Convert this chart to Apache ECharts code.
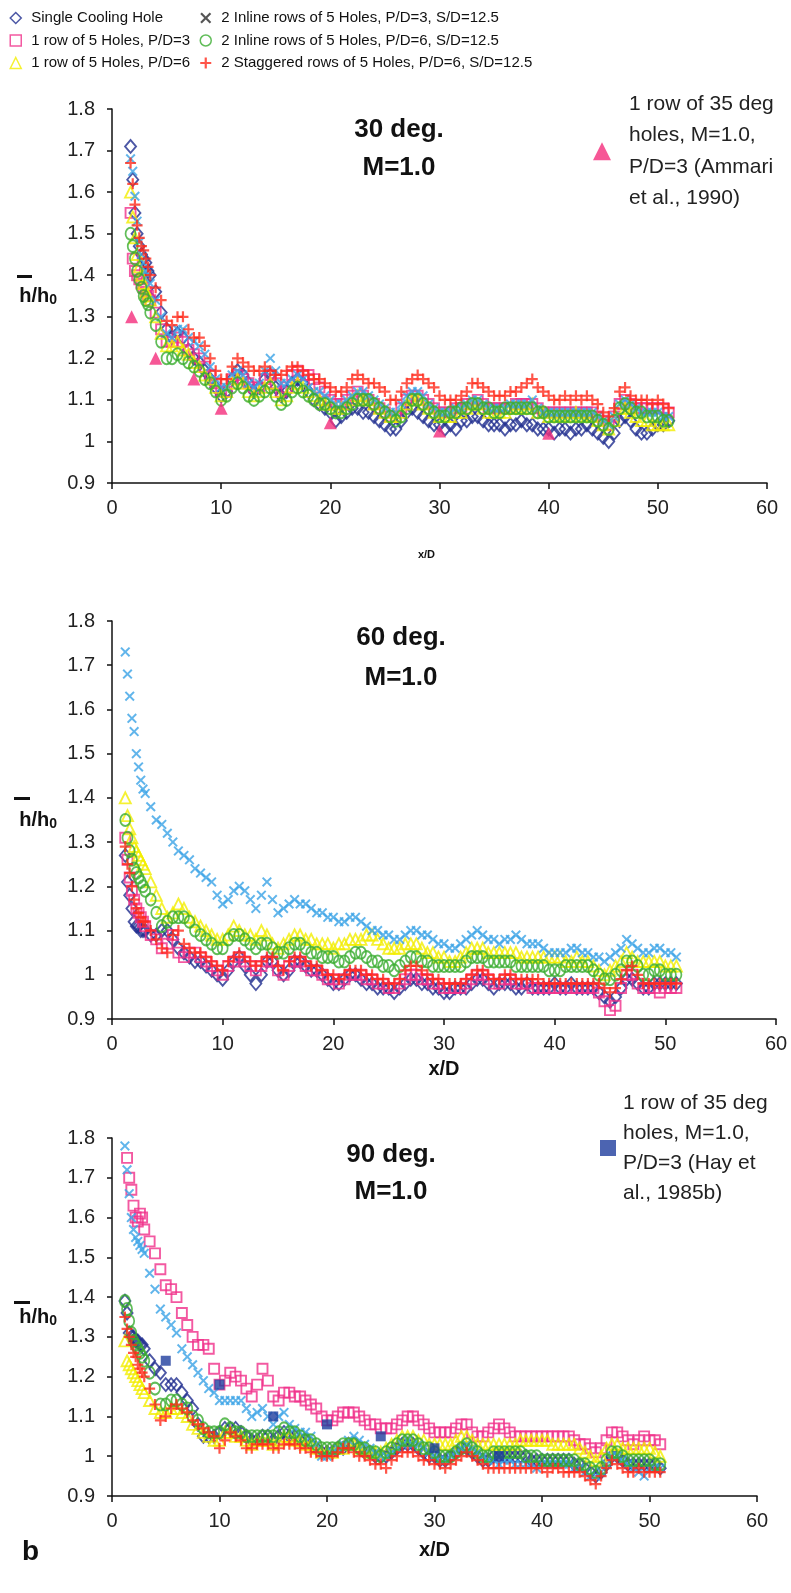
<!DOCTYPE html>
<html>
<head>
<meta charset="utf-8">
<script src="https://cdn.jsdelivr.net/npm/echarts@6/dist/echarts.min.js"></script>
<style>
  html, body { margin: 0; padding: 0; background: #ffffff; }
  #chart { width: 791px; height: 1593px; }
</style>
</head>
<body>
<div id="chart"></div>
<script>
// ---- x/D stations ----
const xs30 = [1.7,1.9,2.1,2.3,2.5,2.7,2.9,3.1,3.3,3.5,
  4,4.5,5,5.5,6,6.5,7,7.5,8,8.5,
  9,9.5,10,10.5,11,11.5,12,12.5,13,13.5,
  14,14.5,15,15.5,16,16.5,17,17.5,18,18.5,
  19,19.5,20,20.5,21,21.5,22,22.5,23,23.5,
  24,24.5,25,25.5,26,26.5,27,27.5,28,28.5,
  29,29.5,30,30.5,31,31.5,32,32.5,33,33.5,
  34,34.5,35,35.5,36,36.5,37,37.5,38,38.5,
  39,39.5,40,40.5,41,41.5,42,42.5,43,43.5,
  44,44.5,45,45.5,46,46.5,47,47.5,48,48.5,
  49,49.5,50,50.5,51];

const xs60 = [1.2,1.4,1.6,1.8,2,2.2,2.4,2.6,2.8,3,
  3.5,4,4.5,5,5.5,6,6.5,7,7.5,8,
  8.5,9,9.5,10,10.5,11,11.5,12,12.5,13,
  13.5,14,14.5,15,15.5,16,16.5,17,17.5,18,
  18.5,19,19.5,20,20.5,21,21.5,22,22.5,23,
  23.5,24,24.5,25,25.5,26,26.5,27,27.5,28,
  28.5,29,29.5,30,30.5,31,31.5,32,32.5,33,
  33.5,34,34.5,35,35.5,36,36.5,37,37.5,38,
  38.5,39,39.5,40,40.5,41,41.5,42,42.5,43,
  43.5,44,44.5,45,45.5,46,46.5,47,47.5,48,
  48.5,49,49.5,50,50.5,51];
const xs90 = xs60;

// ---- 30 deg, M=1.0 ----
const single30 = [1.71,1.63,1.55,1.50,1.47,1.45,1.44,1.43,1.41,1.40,
  1.36,1.31,1.27,1.25,1.26,1.25,1.22,1.20,1.19,1.17,
  1.15,1.13,1.11,1.12,1.15,1.17,1.16,1.14,1.12,1.13,
  1.15,1.16,1.13,1.11,1.12,1.14,1.15,1.14,1.12,1.10,
  1.09,1.08,1.07,1.05,1.06,1.07,1.08,1.08,1.07,1.07,
  1.06,1.05,1.04,1.03,1.03,1.05,1.07,1.08,1.07,1.06,
  1.05,1.04,1.04,1.03,1.04,1.03,1.05,1.05,1.06,1.06,
  1.05,1.04,1.04,1.04,1.03,1.04,1.04,1.05,1.04,1.04,
  1.03,1.03,1.03,1.02,1.03,1.03,1.02,1.03,1.03,1.04,
  1.03,1.02,1.01,1.00,1.02,1.05,1.06,1.05,1.03,1.02,
  1.02,1.03,1.04,1.04,1.05];
const row3_30 = [1.55,1.44,1.41,1.40,1.39,1.38,1.37,1.36,1.35,1.34,
  1.31,1.27,1.24,1.24,1.25,1.24,1.22,1.21,1.20,1.18,
  1.16,1.14,1.12,1.12,1.15,1.16,1.15,1.14,1.13,1.13,
  1.15,1.16,1.14,1.12,1.13,1.16,1.17,1.16,1.16,1.15,
  1.13,1.12,1.10,1.09,1.09,1.10,1.11,1.12,1.11,1.10,
  1.09,1.08,1.07,1.06,1.06,1.08,1.10,1.11,1.11,1.10,
  1.09,1.08,1.07,1.07,1.07,1.08,1.08,1.09,1.09,1.10,
  1.09,1.08,1.08,1.08,1.08,1.08,1.09,1.09,1.09,1.09,
  1.08,1.07,1.07,1.07,1.07,1.07,1.07,1.07,1.07,1.07,
  1.07,1.06,1.05,1.04,1.06,1.09,1.10,1.09,1.08,1.08,
  1.08,1.08,1.08,1.08,1.07];
const row6_30 = [1.60,1.54,1.49,1.45,1.42,1.40,1.38,1.36,1.35,1.34,
  1.30,1.26,1.23,1.23,1.24,1.22,1.21,1.19,1.18,1.16,
  1.15,1.13,1.11,1.12,1.14,1.15,1.14,1.12,1.11,1.12,
  1.13,1.14,1.12,1.10,1.11,1.13,1.14,1.13,1.12,1.11,
  1.10,1.09,1.09,1.08,1.08,1.09,1.10,1.11,1.10,1.10,
  1.09,1.08,1.07,1.06,1.06,1.07,1.09,1.10,1.10,1.09,
  1.08,1.07,1.06,1.06,1.06,1.07,1.07,1.08,1.09,1.09,
  1.08,1.07,1.07,1.07,1.07,1.08,1.08,1.08,1.08,1.09,
  1.07,1.07,1.06,1.06,1.06,1.06,1.06,1.07,1.06,1.06,
  1.06,1.05,1.04,1.03,1.05,1.08,1.08,1.07,1.06,1.05,
  1.05,1.04,1.04,1.04,1.04];
const inline3_30 = [1.68,1.65,1.59,1.53,1.48,1.45,1.43,1.41,1.40,1.38,
  1.34,1.30,1.26,1.25,1.27,1.27,1.25,1.24,1.23,1.21,
  1.18,1.15,1.13,1.13,1.16,1.17,1.16,1.14,1.13,1.14,
  1.17,1.20,1.17,1.14,1.14,1.15,1.16,1.15,1.13,1.12,
  1.12,1.11,1.10,1.09,1.09,1.10,1.11,1.12,1.12,1.11,
  1.10,1.09,1.08,1.07,1.07,1.09,1.11,1.12,1.12,1.11,
  1.09,1.08,1.07,1.07,1.07,1.08,1.08,1.09,1.10,1.10,
  1.09,1.08,1.08,1.08,1.08,1.09,1.09,1.09,1.09,1.10,
  1.08,1.07,1.07,1.07,1.07,1.07,1.07,1.07,1.07,1.07,
  1.07,1.06,1.05,1.04,1.06,1.09,1.10,1.09,1.08,1.07,
  1.07,1.07,1.07,1.06,1.06];
const inline6_30 = [1.50,1.47,1.44,1.41,1.39,1.37,1.35,1.34,1.33,1.31,
  1.28,1.24,1.20,1.20,1.21,1.20,1.19,1.18,1.17,1.15,
  1.14,1.12,1.10,1.11,1.13,1.14,1.13,1.11,1.10,1.11,
  1.12,1.13,1.11,1.09,1.10,1.12,1.13,1.12,1.11,1.10,
  1.09,1.09,1.08,1.07,1.07,1.08,1.09,1.10,1.10,1.10,
  1.09,1.08,1.07,1.06,1.05,1.06,1.08,1.10,1.10,1.09,
  1.08,1.07,1.06,1.06,1.07,1.07,1.08,1.08,1.09,1.09,
  1.08,1.08,1.07,1.07,1.08,1.08,1.08,1.08,1.08,1.08,
  1.07,1.07,1.06,1.06,1.06,1.06,1.06,1.06,1.06,1.06,
  1.06,1.05,1.04,1.03,1.05,1.08,1.09,1.08,1.07,1.07,
  1.06,1.06,1.06,1.05,1.05];
const stag30 = [1.67,1.62,1.57,1.52,1.49,1.47,1.46,1.44,1.42,1.40,
  1.37,1.34,1.29,1.28,1.30,1.30,1.27,1.25,1.25,1.23,
  1.20,1.17,1.15,1.15,1.18,1.20,1.19,1.18,1.17,1.17,
  1.18,1.17,1.16,1.16,1.17,1.18,1.18,1.17,1.16,1.15,
  1.15,1.14,1.13,1.12,1.12,1.13,1.15,1.16,1.15,1.14,
  1.14,1.13,1.12,1.10,1.10,1.12,1.14,1.15,1.16,1.15,
  1.14,1.13,1.11,1.10,1.10,1.10,1.11,1.12,1.14,1.14,
  1.13,1.12,1.11,1.11,1.11,1.12,1.12,1.13,1.14,1.15,
  1.13,1.12,1.11,1.10,1.10,1.11,1.10,1.11,1.10,1.11,
  1.10,1.09,1.07,1.06,1.08,1.12,1.13,1.11,1.10,1.10,
  1.10,1.09,1.10,1.09,1.08];

// ---- 60 deg, M=1.0 ----
const single60 = [1.27,1.21,1.18,1.15,1.12,1.11,1.11,1.10,1.10,1.10,
  1.09,1.09,1.10,1.10,1.08,1.06,1.05,1.04,1.03,1.03,
  1.02,1.01,1.00,0.99,1.01,1.03,1.04,1.02,1.00,0.98,
  1.00,1.03,1.03,1.01,1.00,1.01,1.03,1.03,1.02,1.01,
  1.01,1.00,0.99,0.98,0.98,0.99,1.00,1.00,0.99,0.98,
  0.98,0.97,0.97,0.97,0.96,0.97,0.98,0.99,0.99,0.98,
  0.98,0.97,0.97,0.96,0.96,0.97,0.97,0.97,0.98,0.99,
  0.99,0.98,0.97,0.98,0.98,0.98,0.97,0.97,0.98,0.97,
  0.97,0.97,0.97,0.98,0.97,0.97,0.98,0.97,0.97,0.97,
  0.97,0.96,0.95,0.94,0.95,0.97,0.99,0.99,0.98,0.97,
  0.97,0.98,0.98,0.98,0.98,0.98];
const row3_60 = [1.31,1.26,1.22,1.19,1.17,1.15,1.14,1.13,1.12,1.11,
  1.09,1.08,1.06,1.07,1.09,1.05,1.04,1.05,1.05,1.04,
  1.03,1.02,1.01,1.00,1.02,1.03,1.04,1.03,1.02,1.01,
  1.02,1.03,1.03,1.01,1.00,1.02,1.03,1.03,1.02,1.01,
  1.01,1.00,0.99,0.99,0.98,0.99,1.00,1.00,1.00,0.99,
  0.99,0.98,0.98,0.97,0.97,0.98,0.99,1.00,1.00,0.99,
  0.99,0.98,0.98,0.97,0.97,0.97,0.97,0.98,0.99,1.00,
  1.00,0.99,0.98,0.98,0.99,0.99,0.98,0.98,0.98,0.97,
  0.97,0.97,0.97,0.97,0.97,0.97,0.97,0.97,0.97,0.97,
  0.97,0.96,0.94,0.92,0.93,0.97,1.00,1.00,0.98,0.97,
  0.97,0.97,0.96,0.97,0.97,0.97];
const row6_60 = [1.40,1.36,1.33,1.31,1.29,1.28,1.27,1.26,1.25,1.24,
  1.21,1.18,1.15,1.13,1.14,1.16,1.15,1.13,1.12,1.11,
  1.10,1.09,1.08,1.08,1.09,1.11,1.10,1.09,1.09,1.08,
  1.10,1.09,1.07,1.06,1.07,1.08,1.09,1.09,1.08,1.08,
  1.07,1.07,1.07,1.06,1.07,1.07,1.08,1.08,1.08,1.09,
  1.09,1.08,1.07,1.06,1.06,1.06,1.07,1.07,1.07,1.06,
  1.05,1.05,1.04,1.04,1.03,1.03,1.04,1.05,1.06,1.06,
  1.06,1.05,1.05,1.05,1.05,1.05,1.05,1.04,1.04,1.04,
  1.04,1.04,1.04,1.04,1.04,1.03,1.03,1.04,1.03,1.03,
  1.02,1.01,1.00,1.01,1.02,1.03,1.05,1.04,1.03,1.03,
  1.03,1.03,1.03,1.02,1.02,1.02];
const inline3_60 = [1.73,1.68,1.63,1.58,1.55,1.50,1.47,1.44,1.42,1.41,
  1.38,1.35,1.34,1.32,1.30,1.28,1.27,1.26,1.24,1.23,
  1.22,1.21,1.18,1.16,1.17,1.19,1.20,1.19,1.17,1.15,
  1.18,1.21,1.17,1.14,1.15,1.16,1.17,1.16,1.16,1.15,
  1.14,1.14,1.13,1.13,1.12,1.12,1.13,1.13,1.12,1.11,
  1.10,1.10,1.09,1.09,1.08,1.08,1.09,1.10,1.10,1.09,
  1.09,1.08,1.07,1.07,1.06,1.06,1.07,1.08,1.09,1.10,
  1.09,1.08,1.08,1.07,1.08,1.08,1.09,1.08,1.07,1.07,
  1.07,1.06,1.05,1.05,1.05,1.05,1.06,1.06,1.05,1.05,
  1.04,1.04,1.03,1.04,1.05,1.06,1.08,1.07,1.06,1.05,
  1.05,1.06,1.06,1.05,1.05,1.04];
const inline6_60 = [1.35,1.31,1.28,1.26,1.24,1.23,1.22,1.21,1.20,1.19,
  1.17,1.14,1.11,1.12,1.13,1.13,1.13,1.12,1.10,1.09,
  1.08,1.07,1.06,1.06,1.08,1.09,1.09,1.08,1.07,1.06,
  1.07,1.07,1.06,1.05,1.05,1.06,1.07,1.07,1.06,1.05,
  1.05,1.04,1.04,1.04,1.03,1.03,1.04,1.05,1.05,1.04,
  1.03,1.03,1.02,1.02,1.01,1.02,1.03,1.04,1.04,1.03,
  1.03,1.02,1.02,1.02,1.02,1.02,1.02,1.03,1.04,1.04,
  1.04,1.03,1.03,1.03,1.03,1.03,1.02,1.02,1.02,1.02,
  1.02,1.02,1.01,1.01,1.01,1.02,1.02,1.02,1.02,1.02,
  1.01,1.00,0.99,0.99,1.00,1.01,1.03,1.03,1.02,1.00,
  1.00,1.01,1.01,1.00,1.00,1.00];
const stag60 = [1.29,1.25,1.23,1.20,1.17,1.15,1.14,1.13,1.12,1.12,
  1.10,1.08,1.06,1.05,1.09,1.10,1.07,1.06,1.05,1.05,
  1.04,1.03,1.02,1.01,1.03,1.04,1.05,1.04,1.03,1.02,
  1.03,1.04,1.04,1.02,1.01,1.03,1.04,1.04,1.03,1.02,
  1.02,1.01,1.00,1.00,0.99,1.00,1.01,1.01,1.01,1.00,
  1.00,0.99,0.99,0.98,0.98,0.99,1.01,1.02,1.02,1.01,
  1.00,0.99,0.99,0.98,0.98,0.98,0.98,0.99,1.00,1.01,
  1.01,1.00,0.99,0.99,1.00,1.00,0.99,0.99,0.99,0.99,
  0.99,0.98,0.98,0.98,0.98,0.98,0.98,0.98,0.98,0.98,
  0.98,0.98,0.97,0.96,0.97,0.99,1.01,1.02,1.00,0.98,
  0.98,0.98,0.98,0.98,0.98,0.98];

// ---- 90 deg, M=1.0 ----
const single90 = [1.39,1.36,1.31,1.30,1.30,1.29,1.29,1.28,1.28,1.27,
  1.24,1.22,1.21,1.18,1.18,1.18,1.16,1.14,1.12,1.08,
  1.05,1.05,1.05,1.06,1.07,1.07,1.07,1.06,1.05,1.04,
  1.04,1.05,1.05,1.04,1.05,1.06,1.05,1.05,1.04,1.04,
  1.03,1.02,1.01,1.01,1.01,1.02,1.02,1.03,1.03,1.02,
  1.01,1.01,1.00,1.00,1.00,1.01,1.02,1.03,1.03,1.03,
  1.02,1.01,1.00,1.00,0.99,0.99,1.00,1.01,1.02,1.02,
  1.01,1.00,0.99,0.99,1.00,1.00,1.00,1.00,1.00,1.00,
  1.00,0.99,0.99,0.99,0.99,0.99,0.99,0.99,0.99,0.98,
  0.98,0.97,0.96,0.95,0.96,0.98,1.00,1.00,0.99,0.98,
  0.98,0.98,0.98,0.98,0.98,0.97];
const row3_90 = [null,1.75,1.70,1.67,1.63,1.60,1.59,1.61,1.60,1.57,
  1.54,1.51,1.47,1.43,1.42,1.40,1.36,1.33,1.30,1.28,
  1.28,1.27,1.22,1.18,1.19,1.21,1.20,1.19,1.17,1.15,
  1.18,1.22,1.19,1.15,1.14,1.16,1.16,1.15,1.15,1.14,
  1.13,1.12,1.10,1.09,1.09,1.10,1.11,1.11,1.11,1.10,
  1.09,1.08,1.08,1.07,1.07,1.07,1.08,1.09,1.10,1.10,
  1.09,1.08,1.07,1.06,1.06,1.06,1.06,1.07,1.08,1.08,
  1.06,1.05,1.05,1.06,1.07,1.08,1.07,1.06,1.05,1.05,
  1.05,1.05,1.05,1.05,1.05,1.05,1.05,1.05,1.05,1.04,
  1.03,1.03,1.02,1.01,1.02,1.04,1.06,1.06,1.05,1.04,
  1.03,1.04,1.05,1.04,1.04,1.03];
const row6_90 = [1.29,1.24,1.23,1.22,1.21,1.20,1.19,1.18,1.17,1.16,
  1.14,1.12,1.11,1.11,1.12,1.12,1.11,1.10,1.08,1.07,
  1.06,1.05,1.04,1.04,1.06,1.06,1.05,1.05,1.04,1.03,
  1.04,1.04,1.04,1.03,1.04,1.05,1.05,1.04,1.04,1.03,
  1.03,1.02,1.01,1.01,1.01,1.02,1.02,1.03,1.03,1.02,
  1.02,1.01,1.01,1.01,1.02,1.03,1.04,1.05,1.05,1.05,
  1.04,1.04,1.03,1.03,1.03,1.03,1.03,1.04,1.05,1.05,
  1.04,1.03,1.03,1.03,1.03,1.03,1.03,1.03,1.03,1.04,
  1.04,1.04,1.04,1.04,1.04,1.03,1.03,1.03,1.03,1.03,
  1.02,1.01,1.00,0.99,1.00,1.02,1.03,1.03,1.02,1.02,
  1.02,1.02,1.02,1.02,1.01,1.00];
const inline3_90 = [1.78,1.72,1.66,1.60,1.57,1.55,1.54,1.53,1.52,1.51,
  1.46,1.42,1.37,1.35,1.33,1.31,1.27,1.25,1.23,1.21,
  1.19,1.17,1.16,1.14,1.14,1.14,1.14,1.14,1.12,1.10,
  1.11,1.12,1.10,1.08,1.10,1.11,1.08,1.07,1.06,1.06,
  1.05,1.03,1.00,1.00,1.01,1.02,1.03,1.04,1.05,1.04,
  1.03,1.02,1.01,1.00,1.00,1.01,1.02,1.03,1.04,1.03,
  1.03,1.02,1.01,1.00,0.99,0.99,1.00,1.01,1.02,1.03,
  1.02,1.01,1.00,0.99,0.99,0.98,0.99,0.99,0.98,0.98,
  0.98,0.98,0.97,0.98,0.98,0.98,0.98,0.98,0.98,0.97,
  0.97,0.96,0.95,0.95,0.96,0.98,1.00,1.00,0.99,0.98,
  0.97,0.96,0.95,0.97,0.97,0.97];
const inline6_90 = [1.39,1.37,1.34,1.31,1.29,1.28,1.27,1.26,1.25,1.24,
  1.21,1.17,1.13,1.13,1.14,1.14,1.13,1.12,1.10,1.09,
  1.07,1.06,1.06,1.06,1.08,1.07,1.06,1.06,1.05,1.05,
  1.05,1.05,1.05,1.05,1.06,1.07,1.06,1.06,1.05,1.04,
  1.04,1.03,1.02,1.02,1.02,1.02,1.03,1.03,1.03,1.02,
  1.02,1.01,1.01,1.00,1.01,1.02,1.03,1.04,1.04,1.04,
  1.03,1.02,1.02,1.01,1.00,1.00,1.00,1.01,1.02,1.03,
  1.02,1.01,1.00,1.00,1.01,1.01,1.01,1.01,1.01,1.01,
  1.00,1.00,1.00,0.99,0.99,0.99,0.99,0.99,0.99,0.99,
  0.98,0.98,0.97,0.96,0.97,0.99,1.01,1.01,1.00,0.99,
  0.99,0.99,0.99,0.99,0.98,0.98];
const stag90 = [1.35,1.32,1.30,1.28,1.26,1.25,1.23,1.22,1.21,1.20,
  1.17,1.13,1.09,1.10,1.12,1.13,1.12,1.11,1.09,1.08,
  1.07,1.06,1.05,1.02,1.04,1.06,1.05,1.04,1.02,1.02,
  1.03,1.03,1.03,1.02,1.02,1.03,1.03,1.03,1.02,1.02,
  1.01,1.01,1.00,1.00,1.00,1.01,1.02,1.02,1.01,1.00,
  1.00,0.99,0.98,0.98,0.97,0.99,1.00,1.01,1.01,1.01,
  1.00,0.99,0.99,0.98,0.98,0.97,0.98,0.99,1.00,1.01,
  1.00,0.99,0.98,0.97,0.97,0.97,0.97,0.97,0.97,0.97,
  0.97,0.97,0.97,0.97,0.96,0.97,0.97,0.96,0.96,0.96,
  0.96,0.95,0.94,0.93,0.95,0.97,0.99,0.98,0.97,0.96,
  0.96,0.97,0.96,0.96,0.96,0.96];

// ---- published comparison data (1 row of 35 deg holes, M=1.0, P/D=3) ----
const ammariX = [1.8, 4, 7.5, 10, 20, 30, 40];
const ammariY = [1.30, 1.20, 1.15, 1.08, 1.045, 1.025, 1.02];
const hayX = [5, 10, 15, 20, 25, 30, 36];
const hayY = [1.24, 1.18, 1.10, 1.08, 1.05, 1.02, 1.00];

// ---- axis ticks ----
const yTicks = { min: 0.9, max: 1.8, step: 0.1 };
const xTicks = { min: 0, max: 60, step: 10 };

const NAMES = [
  'Single Cooling Hole',
  '1 row of 5 Holes, P/D=3',
  '1 row of 5 Holes, P/D=6',
  '2 Inline rows of 5 Holes, P/D=3, S/D=12.5',
  '2 Inline rows of 5 Holes, P/D=6, S/D=12.5',
  '2 Staggered rows of 5 Holes, P/D=6, S/D=12.5'
];
const AMMARI = '1 row of 35 deg holes, M=1.0, P/D=3 (Ammari et al., 1990)';
const HAY = '1 row of 35 deg holes, M=1.0, P/D=3 (Hay et al., 1985b)';

const PANELS = [
  { xs: xs30, sets: [single30, row3_30, row6_30, inline3_30, inline6_30, stag30] },
  { xs: xs60, sets: [single60, row3_60, row6_60, inline3_60, inline6_60, stag60] },
  { xs: xs90, sets: [single90, row3_90, row6_90, inline3_90, inline6_90, stag90] }
];

// marker shapes
const X_PATH = 'path://M0,1.4L1.4,0L5,3.6L8.6,0L10,1.4L6.4,5L10,8.6L8.6,10L5,6.4L1.4,10L0,8.6L3.6,5Z';
const PLUS_PATH = 'path://M4,0H6V4H10V6H6V10H4V6H0V4H4Z';
const MARKERS = [
  { symbol: 'diamond', size: [11, 13], hollow: true, color: '#1f2d8e' },
  { symbol: 'rect', size: 10, hollow: true, color: '#f0308a' },
  { symbol: 'triangle', size: 11, hollow: true, color: '#f2ee00' },
  { symbol: X_PATH, size: 10, hollow: false, color: '#3aa2e6' },
  { symbol: 'circle', size: [10, 12], hollow: true, color: '#3aad30' },
  { symbol: PLUS_PATH, size: 11, hollow: false, color: '#ff2a1c' }
];

const FONT = "'Liberation Sans', Arial, sans-serif";

function pairs(xs, ys) {
  const out = [];
  for (let i = 0; i < xs.length; i++) {
    if (ys[i] != null) out.push([xs[i], ys[i]]);
  }
  return out;
}

const GRIDS = [
  { left: 112, top: 109, width: 655, height: 374 },
  { left: 112, top: 621, width: 664, height: 398 },
  { left: 112, top: 1138, width: 645, height: 358 }
];

const series = [];
PANELS.forEach((p, k) => {
  p.sets.forEach((ys, j) => {
    const m = MARKERS[j];
    series.push({
      name: NAMES[j],
      type: 'scatter',
      xAxisIndex: k,
      yAxisIndex: k,
      symbol: m.symbol,
      symbolSize: m.size,
      itemStyle: m.hollow
        ? { color: 'rgba(255,255,255,0)', borderColor: m.color, borderWidth: 1.9 }
        : { color: m.color, borderWidth: 0 },
      emphasis: { disabled: true },
      data: pairs(p.xs, ys)
    });
  });
});
series.push({
  name: AMMARI, type: 'scatter', xAxisIndex: 0, yAxisIndex: 0,
  symbol: 'triangle', symbolSize: 13,
  itemStyle: { color: '#f42d7c' }, emphasis: { disabled: true },
  data: pairs(ammariX, ammariY)
});
series.push({
  name: HAY, type: 'scatter', xAxisIndex: 2, yAxisIndex: 2,
  symbol: 'rect', symbolSize: 10,
  itemStyle: { color: '#1f3d9e' }, emphasis: { disabled: true },
  data: pairs(hayX, hayY)
});

const axisLine = { show: true, lineStyle: { color: '#111', width: 1.5 } };
const xNames = [
  { gap: 66, size: 11, pad: [0, 26, 0, 0] },
  { gap: 40, size: 20, pad: 0 },
  { gap: 44, size: 20, pad: 0 }
];

const xAxis = GRIDS.map((g, k) => ({
  type: 'value', gridIndex: k,
  min: xTicks.min, max: xTicks.max, interval: xTicks.step,
  axisLine, axisTick: { show: true, length: 6, lineStyle: { color: '#111', width: 1.5 } },
  splitLine: { show: false },
  axisLabel: { fontSize: 20, color: '#222', fontFamily: FONT, margin: 15 },
  name: 'x/D', nameLocation: 'middle', nameGap: xNames[k].gap,
  nameTextStyle: { fontSize: xNames[k].size, fontWeight: 'bold', color: '#111', fontFamily: FONT, padding: xNames[k].pad }
}));

const yAxis = GRIDS.map((g, k) => ({
  type: 'value', gridIndex: k,
  min: yTicks.min, max: yTicks.max, interval: yTicks.step,
  axisLine, axisTick: { show: true, length: 5, lineStyle: { color: '#111', width: 1.5 } },
  splitLine: { show: false },
  axisLabel: { fontSize: 20, color: '#222', fontFamily: FONT, margin: 17 },
  name: '{b|h/h}{s|0}', nameLocation: 'middle', nameRotate: 0, nameGap: 55,
  nameTextStyle: {
    color: '#111',
    rich: {
      b: { fontSize: 20, fontWeight: 'bold', fontFamily: FONT, color: '#111' },
      s: { fontSize: 14, fontWeight: 'bold', fontFamily: FONT, color: '#111', padding: [9, 0, 0, 0] }
    }
  }
}));

const titleStyle = { fontSize: 26, fontWeight: 'bold', color: '#111', fontFamily: FONT };
const title = [
  { text: '30 deg.\nM=1.0', left: 394, top: 106, textAlign: 'center', textStyle: Object.assign({ lineHeight: 38 }, titleStyle) },
  { text: '60 deg.\nM=1.0', left: 396, top: 613, textAlign: 'center', textStyle: Object.assign({ lineHeight: 40 }, titleStyle) },
  { text: '90 deg.\nM=1.0', left: 386, top: 1131, textAlign: 'center', textStyle: Object.assign({ lineHeight: 37 }, titleStyle) },
  { text: 'b', left: 17, top: 1533, textStyle: { fontSize: 28, fontWeight: 'bold', color: '#111', fontFamily: FONT } }
];

const topLegendBase = {
  orient: 'vertical', padding: 0, itemWidth: 11, itemHeight: 11, itemGap: 2.5,
  itemStyle: { borderWidth: 1.5 },
  textStyle: { fontSize: 15, lineHeight: 20, color: '#111', fontFamily: FONT, padding: [0, 0, 0, 5] }
};
const refLines = {
  [AMMARI]: '1 row of 35 deg\nholes, M=1.0,\nP/D=3 (Ammari\net al., 1990)',
  [HAY]: '1 row of 35 deg\nholes, M=1.0,\nP/D=3 (Hay et\nal., 1985b)'
};
const legend = [
  Object.assign({ left: 9.5, top: 8, data: NAMES.slice(0, 3) }, topLegendBase),
  Object.assign({ left: 199.5, top: 8, data: [
    { name: NAMES[3], itemStyle: { color: '#2a2a2a' } },
    NAMES[4], NAMES[5]
  ] }, topLegendBase),
  { orient: 'vertical', padding: 0, left: 593, top: 41, itemWidth: 18, itemHeight: 18,
    data: [AMMARI], formatter: n => refLines[n],
    textStyle: { fontSize: 21, lineHeight: 31.5, color: '#222', fontFamily: FONT, padding: [94.5, 0, 0, 13] } },
  { orient: 'vertical', padding: 0, left: 600, top: 1043, itemWidth: 16, itemHeight: 16,
    data: [HAY], formatter: n => refLines[n],
    textStyle: { fontSize: 21, lineHeight: 30, color: '#222', fontFamily: FONT, padding: [90, 0, 0, 2] } }
];

// overbar on the mean heat-transfer coefficient symbol
const graphic = [
  { type: 'rect', shape: { x: 17, y: 275, width: 15, height: 3 }, style: { fill: '#111' } },
  { type: 'rect', shape: { x: 14, y: 797, width: 16, height: 3 }, style: { fill: '#111' } },
  { type: 'rect', shape: { x: 14, y: 1301, width: 16, height: 3 }, style: { fill: '#111' } }
];

const chart = echarts.init(document.getElementById('chart'), null, { renderer: 'canvas' });
chart.setOption({
  backgroundColor: '#ffffff',
  animation: false,
  grid: GRIDS.map(g => Object.assign({ containLabel: false, outerBoundsMode: 'none' }, g)),
  xAxis, yAxis, title, legend, graphic, series
});
</script>
</body>
</html>
